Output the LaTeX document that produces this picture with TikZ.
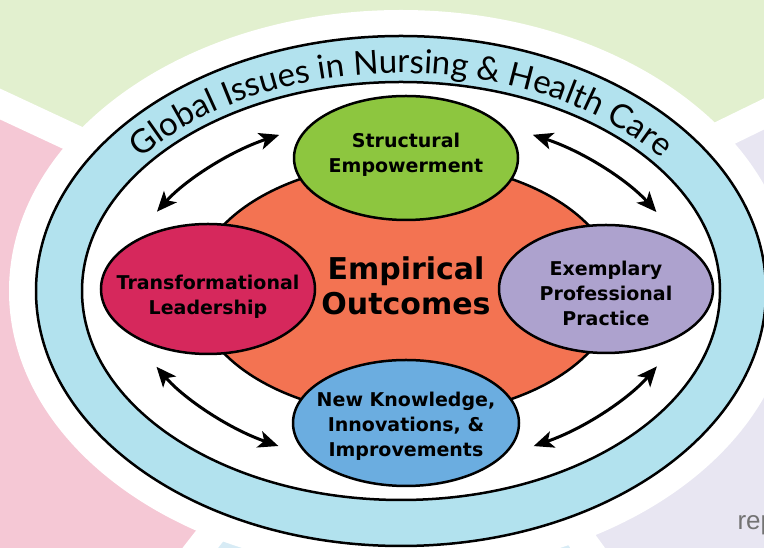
\documentclass[tikz,border=0pt]{standalone}
\usepackage{fontspec}
\setmainfont{DejaVu Sans}
\newfontfamily\titlefont{Lato}
\newfontfamily\markfont{Liberation Sans}
\usetikzlibrary{arrows.meta, positioning, shapes.geometric, decorations.text}
\definecolor{paleGreen}{RGB}{226,240,207}
\definecolor{palePink}{RGB}{245,200,213}
\definecolor{paleLilac}{RGB}{232,230,242}
\definecolor{paleSky}{RGB}{215,235,245}
\definecolor{ringBlue}{RGB}{178,226,238}
\definecolor{coreOrange}{RGB}{243,115,82}
\definecolor{leafGreen}{RGB}{141,198,63}
\definecolor{roseRed}{RGB}{214,40,92}
\definecolor{lilac}{RGB}{173,162,206}
\definecolor{skyBlue}{RGB}{107,173,224}

\begin{document}
\begin{tikzpicture}[x=1pt,y=1pt,on grid,
    topic/.style={ellipse,draw,line width=2.5pt,inner sep=0pt},
    caption/.style={align=center,font=\bfseries\fontsize{19}{25}\selectfont},
    twoway/.style={draw=black,line width=3pt,bend left=15,
      arrows={Stealth[length=20pt,width=17pt,inset=5pt]-Stealth[length=20pt,width=17pt,inset=5pt]}},
    gap/.style={white,line width=28pt}]

  \useasboundingbox (0,0) rectangle (764,548);
  \coordinate (hub) at (401,257);

  % pale sectors behind the model
  \begin{scope}
    \clip (0,0) rectangle (764,548);
    \fill[paleGreen] (hub) -- +(26:1500) -- +(155:1500) -- cycle;
    \fill[palePink]  (hub) -- +(155:1500) -- +(232:1500) -- cycle;
    \fill[paleSky]   (hub) -- +(232:1500) -- +(306:1500) -- cycle;
    \fill[paleLilac] (hub) -- +(306:1500) -- +(386:1500) -- cycle;
    \foreach \a in {26,155,232,306}
      \draw[gap] (hub) -- +(\a:900);
    \fill[white] (hub) ellipse [x radius=392, y radius=281];
  \end{scope}

  % ring with the curved title
  \draw[line width=2.5pt,fill=ringBlue] (hub) ellipse [x radius=365, y radius=255];
  \draw[line width=2.5pt,fill=white] (hub) ellipse [x radius=319, y radius=209];
  \path[decorate,decoration={text along path,text align=center,
      text={|\titlefont\fontsize{33}{33}\selectfont|Global Issues in Nursing {\&} Health Care}}]
    (73,257) arc[start angle=180,end angle=0,x radius=328,y radius=218];

  \node[topic,fill=coreOrange,minimum width=422pt,minimum height=254pt] (core) at (406,259) {};
  \node[topic,fill=leafGreen,minimum width=224pt,minimum height=124pt] (struct) [above=131pt of core] {};
  \node[topic,fill=roseRed,minimum width=214pt,minimum height=130pt] (lead) [left=198pt of core] {};
  \node[topic,fill=lilac,minimum width=214pt,minimum height=128pt] (pract) [right=200pt of core] {};
  \node[topic,fill=skyBlue,minimum width=226pt,minimum height=126pt] (know) [below=134pt of core] {};

  \node[caption,font=\bfseries\fontsize{30}{35}\selectfont] (coretext) at ([yshift=3pt]core) {Empirical\\Outcomes};
  \node[caption] (structtext) at ([yshift=3.5pt]struct) {Structural\\Empowerment};
  \node[caption] (leadtext) at ([yshift=-8pt]lead) {Transformational\\Leadership};
  \node[caption] (practtext) at ([yshift=-4pt]pract) {Exemplary\\Professional\\Practice};
  \node[caption] (knowtext) at ([yshift=-3pt]know) {New Knowledge,\\Innovations, \&\\Improvements};

  % two-way links round the core
  \path[twoway,shorten <=44pt,shorten >=32pt] (lead.151) to (struct.161);
  \path[twoway,shorten <=32pt,shorten >=44pt] (struct.19) to (pract.29);
  \path[twoway,shorten <=44pt,shorten >=32pt] (pract.331) to (know.341);
  \path[twoway,shorten <=32pt,shorten >=44pt] (know.199) to (lead.209);

  \node[anchor=base west,text=black!55,font=\markfont\fontsize{26}{26}\selectfont] (mark) at (734,18) {rep};
\end{tikzpicture}
\end{document}
